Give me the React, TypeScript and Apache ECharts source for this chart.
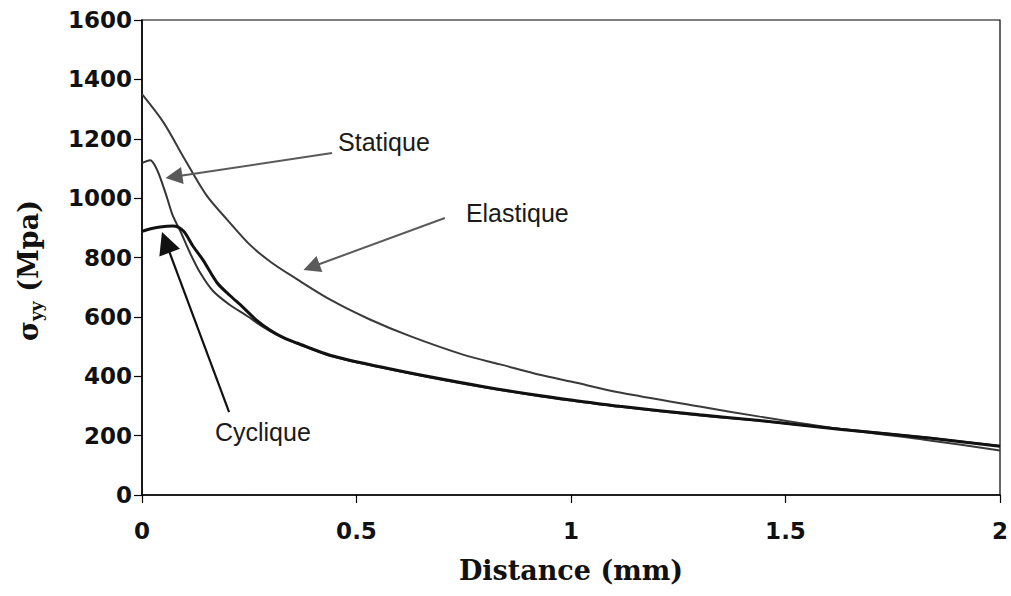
import React, { useEffect, useRef } from "react";
import * as echarts from "echarts";

// Distance (mm) / sigma_yy (MPa)
const elastiqueX = [0, 0.05, 0.1, 0.15, 0.2, 0.25, 0.3, 0.36, 0.44, 0.53, 0.625, 0.75, 0.835, 0.93, 1.0, 1.114, 1.3, 1.44, 1.63, 1.84, 2.0];
const elastiqueY = [1350, 1255, 1130, 1010, 925, 845, 785, 728, 657, 592, 535, 472, 440, 404, 382, 345, 298, 264, 222, 183, 150];

const statiqueX = [0, 0.019, 0.03, 0.042, 0.058, 0.072, 0.089, 0.112, 0.135, 0.165, 0.205, 0.245, 0.282, 0.32, 0.361, 0.44, 0.555, 0.671, 0.8, 0.93, 1.0, 1.114, 1.3, 1.44, 1.63, 1.84, 2.0];
const statiqueY = [1118, 1128, 1110, 1071, 1003, 940, 890, 815, 750, 688, 640, 603, 566, 535, 510, 468, 430, 396, 362, 332, 318, 297, 268, 250, 222, 192, 165];

const cycliqueX = [0, 0.02, 0.042, 0.072, 0.096, 0.119, 0.142, 0.175, 0.205, 0.235, 0.266, 0.298, 0.33, 0.361, 0.44, 0.555, 0.671, 0.8, 0.93, 1.0, 1.114, 1.3, 1.44, 1.63, 1.84, 2.0];
const cycliqueY = [888, 897, 903, 906, 890, 838, 792, 715, 672, 633, 590, 556, 530, 512, 470, 432, 398, 364, 334, 320, 299, 270, 251, 221, 191, 164];

const xTicks = [0, 0.5, 1, 1.5, 2];
const yTicks = [0, 200, 400, 600, 800, 1000, 1200, 1400, 1600];

// annotations: label, text anchor (x,y), arrow start (x,y), arrow head centre (x,y)
const annLabels = ["Statique", "Elastique", "Cyclique"];
const annTextPos = [[0.457, 1189], [0.755, 949], [0.17, 212]];
const annFrom = [[0.443, 1152], [0.706, 933], [0.203, 279]];
const annTo = [[0.0744, 1072], [0.395, 768], [0.0555, 851]];

const zip = (xs: number[], ys: number[]) => xs.map((x, i) => [x, ys[i]]);

export default function App() {
  const ref = useRef<HTMLDivElement>(null);
  useEffect(() => {
    if (!ref.current) return;
    const chart = echarts.init(ref.current, null, { renderer: "svg" });
    const grayArrow = (i: number) => ({
      silent: true,
      symbol: ["none", "triangle"],
      symbolSize: 17,
      label: { show: false },
      lineStyle: { color: "#5a5a5a", width: 2, type: "solid" },
      itemStyle: { color: "#6e6e6e" },
      data: [[{ coord: annFrom[i] }, { coord: annTo[i] }]],
    });
    const option: any = {
      animation: false,
      backgroundColor: "#ffffff",
      grid: { left: 142, right: 11, top: 20, bottom: 101, show: true, borderColor: "#000", borderWidth: 1.2 },
      xAxis: {
        type: "value",
        min: 0,
        max: 2,
        interval: 0.5,
        name: "Distance (mm)",
        nameLocation: "middle",
        nameGap: 62,
        nameTextStyle: { fontFamily: "DejaVu Serif", fontWeight: "bold", fontSize: 27, color: "#111" },
        axisLine: { lineStyle: { color: "#000", width: 1.5 } },
        axisTick: { show: true, inside: false, length: 8, lineStyle: { color: "#000", width: 1.2 } },
        axisLabel: {
          margin: 24,
          fontFamily: "DejaVu Sans",
          fontWeight: "bold",
          fontSize: 23,
          color: "#111",
          formatter: (v: number) => (xTicks.includes(v) ? String(v) : ""),
        },
        splitLine: { show: false },
      },
      yAxis: {
        type: "value",
        min: 0,
        max: 1600,
        interval: 200,
        name: "{s|σ}{sub|yy}{s| (Mpa)}",
        nameLocation: "middle",
        nameRotate: 90,
        nameGap: 98,
        nameTextStyle: {
          padding: [0, 26, 0, 0],
          rich: {
            s: { fontFamily: "DejaVu Serif", fontWeight: "bold", fontSize: 27, color: "#111", lineHeight: 32 },
            sub: { fontFamily: "DejaVu Serif", fontWeight: "bold", fontSize: 17, color: "#111", lineHeight: 32, verticalAlign: "bottom", padding: [10, 0, 0, 0] },
          },
        },
        axisLine: { lineStyle: { color: "#000", width: 1.5 } },
        axisTick: { show: true, inside: false, length: 8, lineStyle: { color: "#000", width: 1.2 } },
        axisLabel: {
          margin: 10,
          fontFamily: "DejaVu Sans",
          fontWeight: "bold",
          fontSize: 23,
          color: "#111",
          formatter: (v: number) => (yTicks.includes(v) ? String(v) : ""),
        },
        splitLine: { show: false },
      },
      series: [
        {
          name: "Elastique",
          type: "line",
          data: zip(elastiqueX, elastiqueY),
          showSymbol: false,
          smooth: 0.3,
          lineStyle: { color: "#3a3a3a", width: 2 },
          markLine: grayArrow(1),
        },
        {
          name: "Statique",
          type: "line",
          data: zip(statiqueX, statiqueY),
          showSymbol: false,
          smooth: 0.3,
          lineStyle: { color: "#333333", width: 2 },
          markLine: grayArrow(0),
        },
        {
          name: "Cyclique",
          type: "line",
          data: zip(cycliqueX, cycliqueY),
          showSymbol: false,
          smooth: 0.3,
          lineStyle: { color: "#111111", width: 3 },
          markLine: {
            silent: true,
            symbol: ["none", "triangle"],
            symbolSize: 22,
            label: { show: false },
            lineStyle: { color: "#111", width: 2.2, type: "solid" },
            itemStyle: { color: "#111" },
            data: [[{ coord: annFrom[2] }, { coord: annTo[2] }]],
          },
        },
      ],
    };
    chart.setOption(option);
    const texts = annLabels.map((label, i) => {
      const p = chart.convertToPixel({ gridIndex: 0 }, annTextPos[i]) as number[];
      return {
        type: "text",
        x: p[0],
        y: p[1],
        style: {
          text: label,
          fontFamily: "Liberation Sans",
          fontSize: 25,
          fill: "#1a1a1a",
          textAlign: "left",
          textVerticalAlign: "middle",
        },
      };
    });
    chart.setOption({ graphic: texts });
    return () => chart.dispose();
  }, []);
  return <div ref={ref} style={{ position: "fixed", left: 0, top: 0, width: 1011, height: 596 }} />;
}
